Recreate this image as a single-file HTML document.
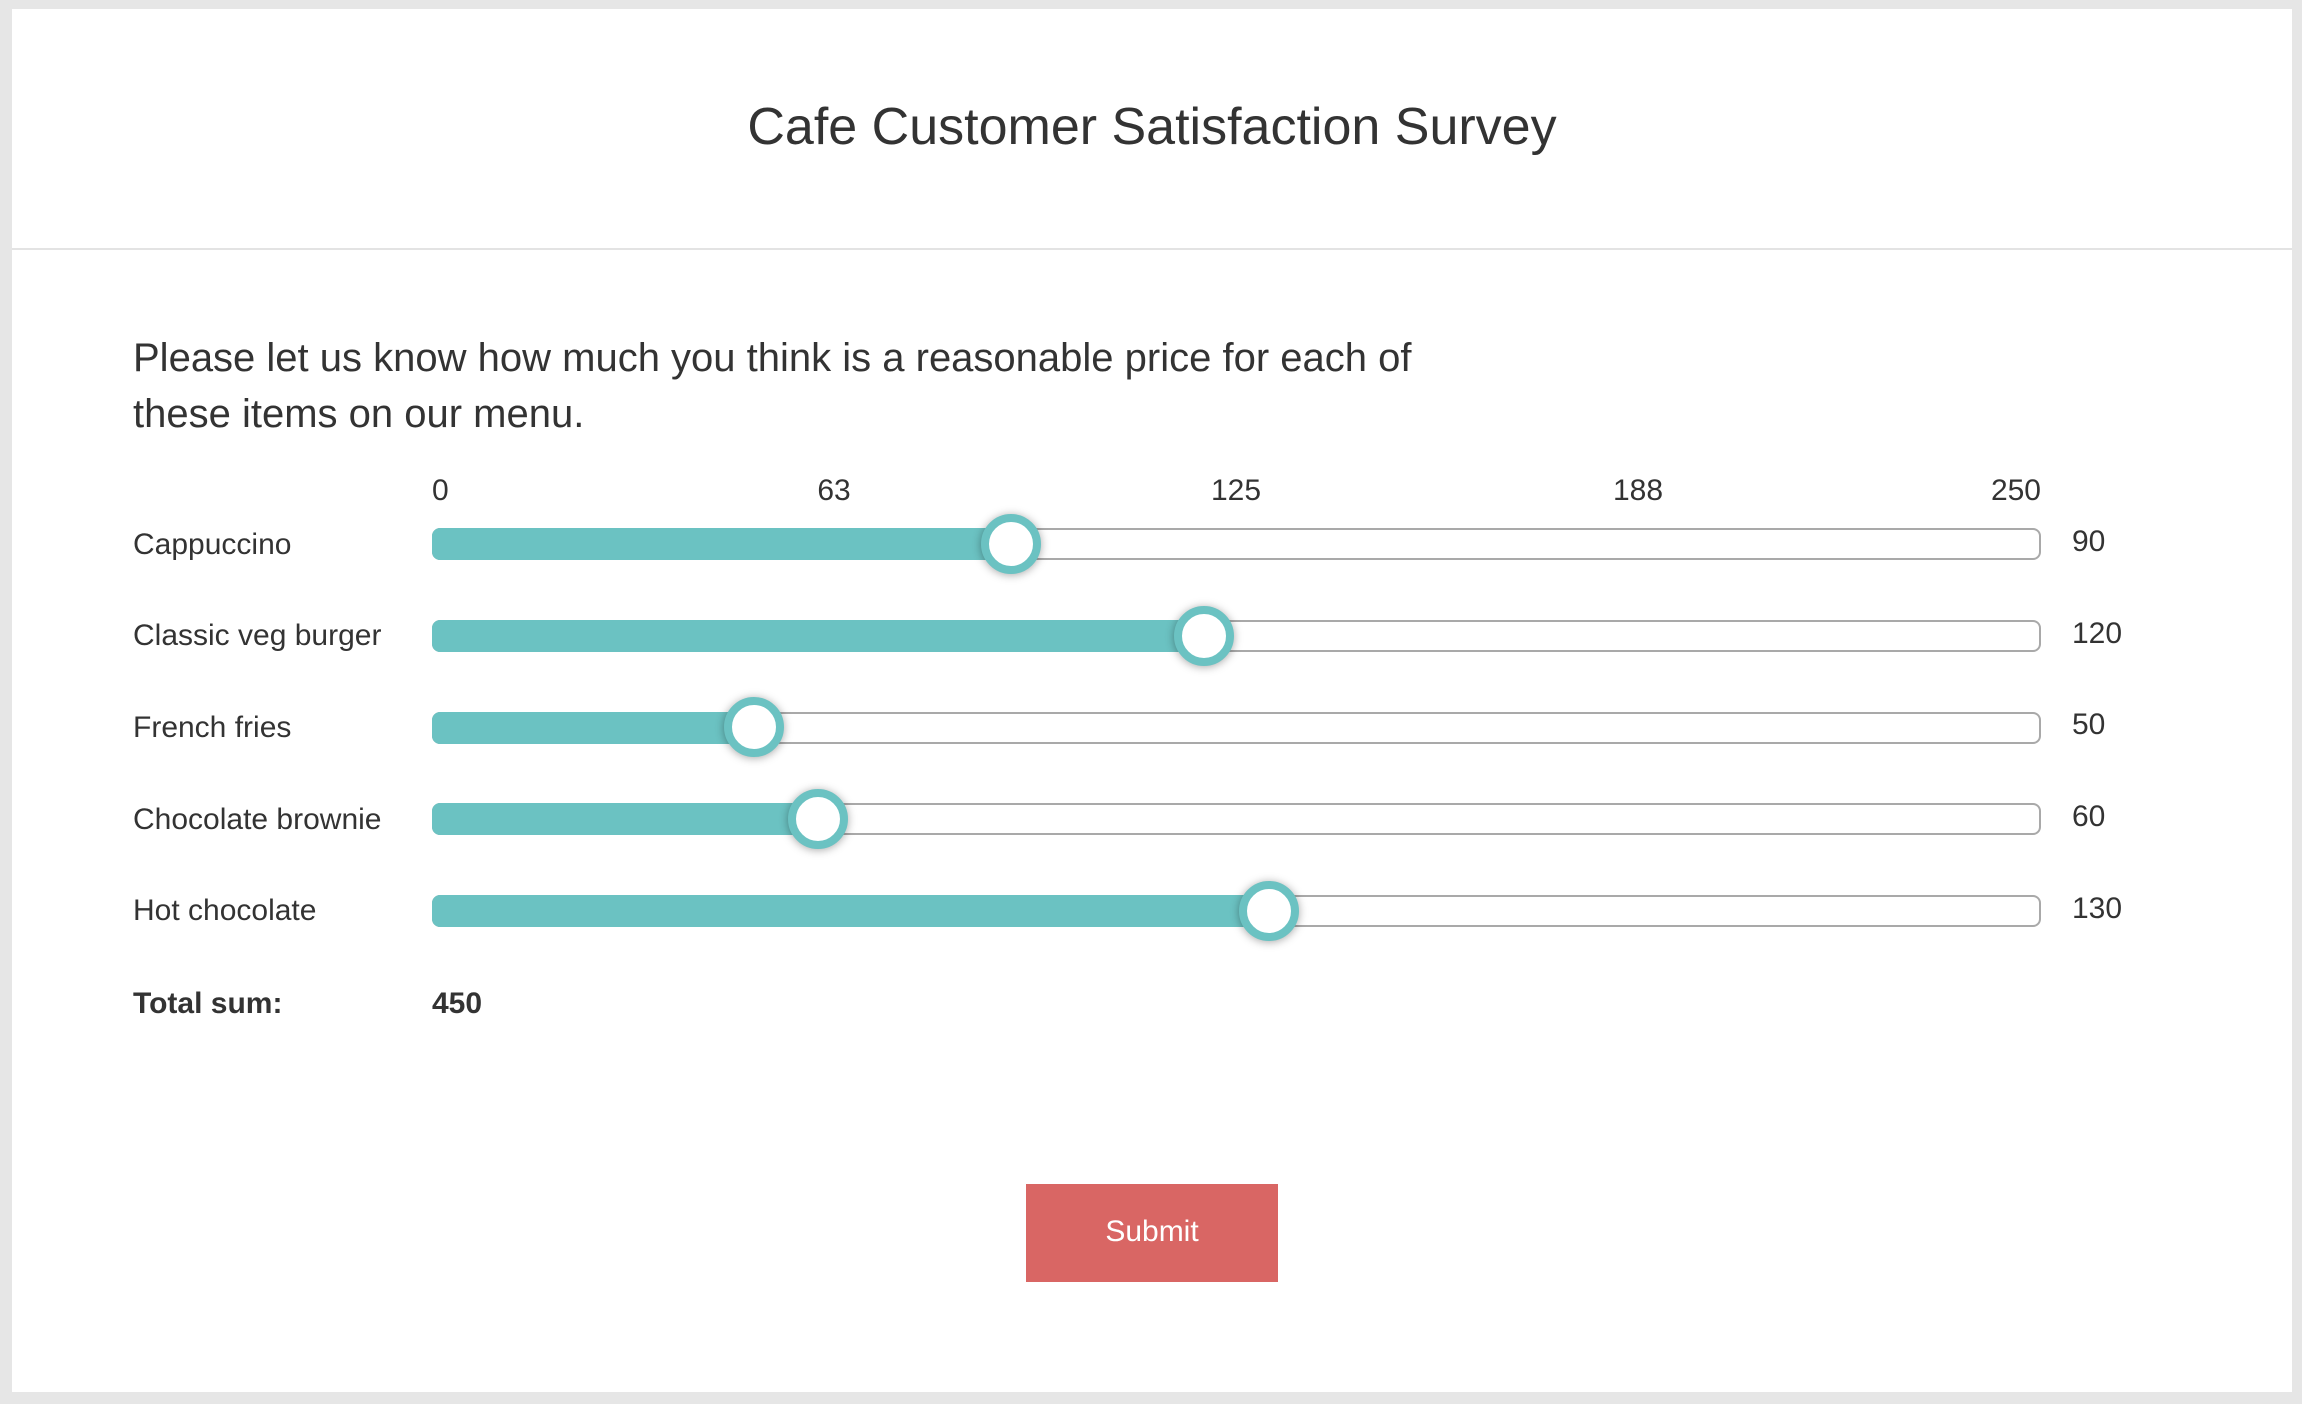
<!DOCTYPE html>
<html>
<head>
<meta charset="utf-8">
<style>
  html, body { margin:0; padding:0; }
  body { width:2302px; height:1404px; background:#e6e6e6; position:relative; overflow:hidden;
         font-family:"Liberation Sans", Arial, Helvetica, sans-serif; color:#333; }
  .card { position:absolute; left:12px; top:9px; width:2280px; height:1383px; background:#fff; }
  .t { position:absolute; white-space:nowrap; line-height:1; }
  .sep { position:absolute; left:12px; top:248px; width:2280px; height:2px; background:#e3e3e3; }
  .track { position:absolute; left:432px; width:1609px; height:32px; box-sizing:border-box;
           border:2px solid #a9a9a9; border-radius:8px; background:#fff; }
  .fill { position:absolute; left:432px; height:32px; background:#6bc2c2; border-radius:8px 0 0 8px; }
  .thumb { position:absolute; width:60px; height:60px; box-sizing:border-box; border-radius:50%;
           border:8px solid #6bc2c2; background:#fff; box-shadow:0 1px 9px rgba(0,0,0,0.35); }
  .lbl { font-size:30px; }
  .btn { position:absolute; left:1026px; top:1184px; width:252px; height:98px; background:#d96664; }
</style>
</head>
<body>
<div class="card"></div>
<div class="sep"></div>

<div class="t" style="left:0;width:2304px;text-align:center;top:101px;font-size:52px;">Cafe Customer Satisfaction Survey</div>

<div class="t" style="left:133px;top:330px;font-size:40px;line-height:56px;white-space:normal;width:1500px;">Please let us know how much you think is a reasonable price for each of<br>these items on our menu.</div>

<!-- scale labels -->
<div class="t lbl" style="left:432px;top:476px;">0</div>
<div class="t lbl" style="left:734px;width:200px;text-align:center;top:476px;">63</div>
<div class="t lbl" style="left:1136px;width:200px;text-align:center;top:476px;">125</div>
<div class="t lbl" style="left:1538px;width:200px;text-align:center;top:476px;">188</div>
<div class="t lbl" style="left:1741px;width:300px;text-align:right;top:476px;">250</div>

<!-- Row 1 -->
<div class="t lbl" style="left:133px;top:530px;">Cappuccino</div>
<div class="track" style="top:528px;"></div>
<div class="fill" style="top:528px;width:580px;"></div>
<div class="thumb" style="left:981px;top:514px;"></div>
<div class="t lbl" style="left:2072px;top:527px;">90</div>

<!-- Row 2 -->
<div class="t lbl" style="left:133px;top:621px;">Classic veg burger</div>
<div class="track" style="top:620px;"></div>
<div class="fill" style="top:620px;width:772px;"></div>
<div class="thumb" style="left:1174px;top:606px;"></div>
<div class="t lbl" style="left:2072px;top:619px;">120</div>

<!-- Row 3 -->
<div class="t lbl" style="left:133px;top:713px;">French fries</div>
<div class="track" style="top:712px;"></div>
<div class="fill" style="top:712px;width:322px;"></div>
<div class="thumb" style="left:724px;top:697px;"></div>
<div class="t lbl" style="left:2072px;top:710px;">50</div>

<!-- Row 4 -->
<div class="t lbl" style="left:133px;top:805px;">Chocolate brownie</div>
<div class="track" style="top:803px;"></div>
<div class="fill" style="top:803px;width:386px;"></div>
<div class="thumb" style="left:788px;top:789px;"></div>
<div class="t lbl" style="left:2072px;top:802px;">60</div>

<!-- Row 5 -->
<div class="t lbl" style="left:133px;top:896px;">Hot chocolate</div>
<div class="track" style="top:895px;"></div>
<div class="fill" style="top:895px;width:837px;"></div>
<div class="thumb" style="left:1239px;top:881px;"></div>
<div class="t lbl" style="left:2072px;top:894px;">130</div>

<!-- Total -->
<div class="t lbl" style="left:133px;top:989px;font-weight:bold;">Total sum:</div>
<div class="t lbl" style="left:432px;top:989px;font-weight:bold;">450</div>

<!-- Submit -->
<div class="btn"></div>
<div class="t lbl" style="left:1026px;width:252px;text-align:center;top:1217px;color:#fff;">Submit</div>
</body>
</html>
